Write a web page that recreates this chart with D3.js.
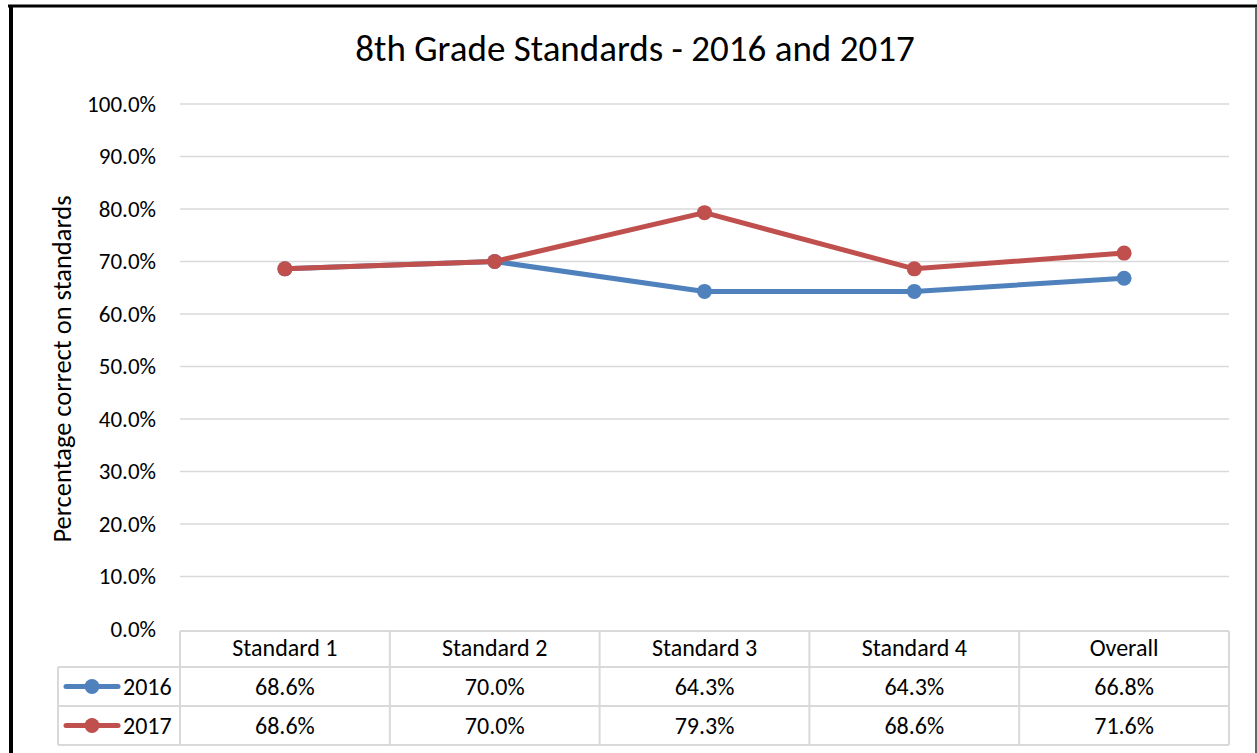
<!DOCTYPE html>
<html lang="en">
  <head>
    <script src="https://d3js.org/d3.v7.min.js"></script>
    <style>
      body { margin: 0; background: #fff; }
      text { font-family: Carlito, Calibri, Lato, "Open Sans", sans-serif; fill: #000; }
    </style>
  </head>
  <body>
    <script>
      var categories = ["Standard 1", "Standard 2", "Standard 3", "Standard 4", "Overall"];
      var seriesNames = ["2016", "2017"];
      var values2016 = [68.6, 70.0, 64.3, 64.3, 66.8];
      var values2017 = [68.6, 70.0, 79.3, 68.6, 71.6];
      var yTicks = [0, 10, 20, 30, 40, 50, 60, 70, 80, 90, 100];
      var colors = ["#4F81BD", "#C0504D"];

      var width = 1257,
        height = 753;

      var svg = d3.select("body")
        .append("svg")
        .attr("width", width)
        .attr("height", height);

      // frame of the chart box
      svg.append("line").attr("x1", 8).attr("x2", 1257).attr("y1", 6).attr("y2", 6)
        .attr("stroke", "#000").attr("stroke-width", 3);
      svg.append("line").attr("x1", 11).attr("x2", 11).attr("y1", 5).attr("y2", 753)
        .attr("stroke", "#000").attr("stroke-width", 4);
      svg.append("line").attr("x1", 1256).attr("x2", 1256).attr("y1", 7).attr("y2", 753)
        .attr("stroke", "#666").attr("stroke-width", 2);

      var x = d3.scaleBand().domain(categories).range([180, 1229]);
      var y = d3.scaleLinear().domain([0, 100]).range([629, 104]);

      // title
      svg.append("text")
        .attr("x", 635).attr("y", 61)
        .attr("text-anchor", "middle")
        .style("font-size", "37px")
        .text("8th Grade Standards - 2016 and 2017");

      // gridlines
      svg.append("g")
        .selectAll("line")
        .data(yTicks.slice(1))
        .join("line")
        .attr("x1", 180).attr("x2", 1229)
        .attr("y1", function (d) { return y(d); })
        .attr("y2", function (d) { return y(d); })
        .attr("stroke", "#D9D9D9").attr("stroke-width", 1.5);

      // y axis labels
      var yAxis = d3.axisLeft(y).tickValues(yTicks).tickSize(0).tickPadding(0)
        .tickFormat(function (d) { return d.toFixed(1) + "%"; });
      var yg = svg.append("g").attr("transform", "translate(156,0)").call(yAxis);
      yg.select(".domain").remove();
      yg.selectAll("text")
        .style("font-size", "23px")
        .style("font-family", "Carlito, Calibri, Lato, 'Open Sans', sans-serif")
        .attr("fill", "#000");

      svg.append("text")
        .attr("transform", "translate(71,369) rotate(-90)")
        .attr("text-anchor", "middle")
        .style("font-size", "26.5px")
        .text("Percentage correct on standards");

      // lines and markers
      var series = [values2016, values2017];
      var line = d3.line()
        .x(function (d, i) { return x(categories[i]) + x.bandwidth() / 2; })
        .y(function (d) { return y(d); });

      series.forEach(function (vals, s) {
        svg.append("path")
          .datum(vals)
          .attr("d", line)
          .attr("fill", "none")
          .attr("stroke", colors[s])
          .attr("stroke-width", 5)
          .attr("stroke-linejoin", "round");
        svg.append("g")
          .selectAll("circle")
          .data(vals)
          .join("circle")
          .attr("cx", function (d, i) { return x(categories[i]) + x.bandwidth() / 2; })
          .attr("cy", function (d) { return y(d); })
          .attr("r", 7.5)
          .attr("fill", colors[s]);
      });

      // data table
      var rowTop = [631, 667, 706, 745];
      var tableColor = "#D9D9D9";
      var tg = svg.append("g").attr("stroke", tableColor).attr("stroke-width", 2);
      tg.append("line").attr("x1", 180).attr("x2", 1229).attr("y1", rowTop[0]).attr("y2", rowTop[0]);
      [1, 2, 3].forEach(function (r) {
        tg.append("line").attr("x1", 58).attr("x2", 1229).attr("y1", rowTop[r]).attr("y2", rowTop[r]);
      });
      var bounds = categories.map(function (c) { return x(c); }).concat([x.range()[1]]);
      bounds.forEach(function (b) {
        tg.append("line").attr("x1", b).attr("x2", b).attr("y1", rowTop[0]).attr("y2", rowTop[3]);
      });
      tg.append("line").attr("x1", 58).attr("x2", 58).attr("y1", rowTop[1]).attr("y2", rowTop[3]);

      // header
      svg.append("g")
        .selectAll("text")
        .data(categories)
        .join("text")
        .attr("x", function (d) { return x(d) + x.bandwidth() / 2; })
        .attr("y", 656)
        .attr("text-anchor", "middle")
        .style("font-size", "24px")
        .text(function (d) { return d; });

      // value rows and legend keys
      series.forEach(function (vals, s) {
        var mid = (rowTop[s + 1] + rowTop[s + 2]) / 2;
        svg.append("g")
          .selectAll("text")
          .data(vals)
          .join("text")
          .attr("x", function (d, i) { return x(categories[i]) + x.bandwidth() / 2; })
          .attr("y", mid + 8.5)
          .attr("text-anchor", "middle")
          .style("font-size", "24px")
          .text(function (d) { return d.toFixed(1) + "%"; });

        svg.append("line")
          .attr("x1", 66).attr("x2", 118).attr("y1", mid).attr("y2", mid)
          .attr("stroke", colors[s]).attr("stroke-width", 5).attr("stroke-linecap", "round");
        svg.append("circle").attr("cx", 92).attr("cy", mid).attr("r", 7.5).attr("fill", colors[s]);
        svg.append("text")
          .attr("x", 123).attr("y", mid + 8.5)
          .style("font-size", "24px")
          .text(seriesNames[s]);
      });
    </script>
  </body>
</html>
